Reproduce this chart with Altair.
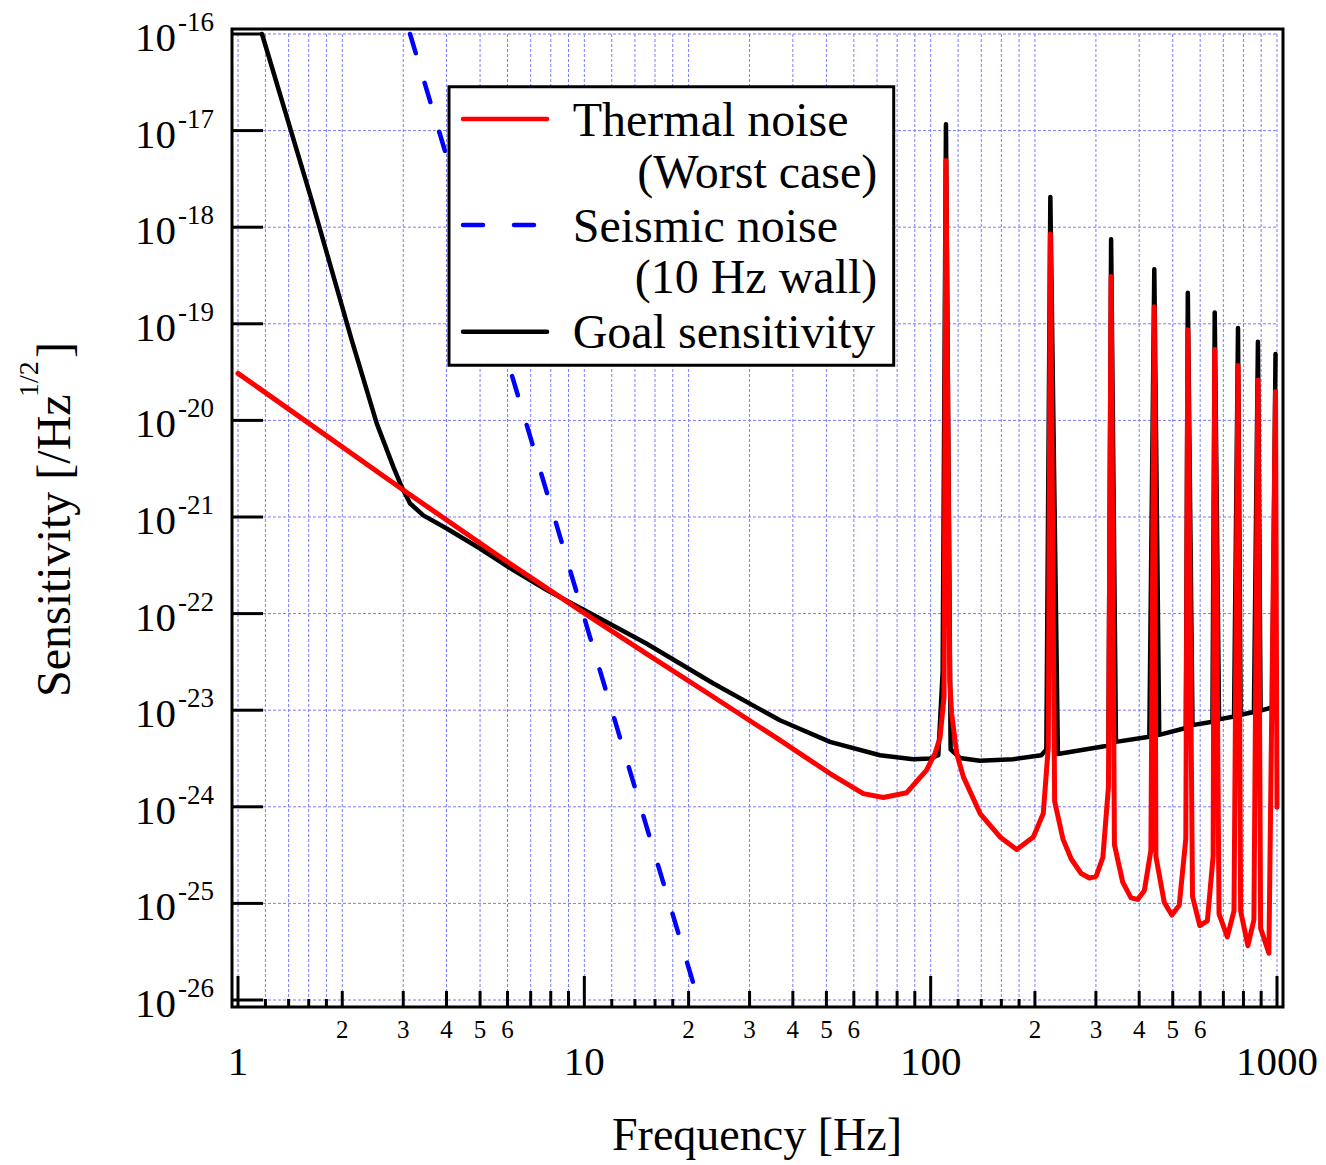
import altair as alt
import pandas as pd

# ---------------- data ----------------
thermal_freq = [1.0, 1.58, 3.0, 5.58, 9.72, 15.1, 23.6, 36.7, 51.2, 63.9, 73.0, 85.3, 97.3,
                102.9, 106.4, 109.3, 110.7, 113.5, 115.0, 118.9, 124.3, 138.9, 158.6, 177.2,
                197.9, 211.4, 218.6, 221.6, 228.0, 240.9, 254.6, 272.0, 287.4, 300.5, 314.2,
                326.1, 331.9, 339.3, 358.5, 378.9, 396.0, 413.9, 432.4, 442.3, 447.0, 472.4,
                497.1, 522.0, 545.4, 552.7, 570.2, 598.5, 629.5, 654.0, 661.0, 680.2, 718.7,
                751.4, 771.6, 785.2, 824.1, 857.7, 880.9, 896.8, 947.5, 990.2, 1000.0]
thermal_val = [3.07e-20, 9.66e-21, 1.90e-21, 4.09e-22, 1.08e-22, 3.86e-23, 1.37e-23, 4.89e-24,
               2.21e-24, 1.37e-24, 1.25e-24, 1.40e-24, 2.40e-24, 3.56e-24, 5.20e-24, 1.37e-23,
               4.89e-18, 2.0e-23, 9.2e-24, 3.56e-24, 2.04e-24, 8.51e-25, 4.88e-25, 3.61e-25,
               4.88e-25, 8.51e-25, 4.17e-24, 8.51e-19, 1.14e-24, 4.66e-25, 2.88e-25, 2.04e-25,
               1.83e-25, 1.91e-25, 3.0e-25, 1.61e-24, 3.08e-19, 4.06e-25, 1.66e-25, 1.14e-25,
               1.10e-25, 1.35e-25, 3.54e-25, 1.50e-19, 3.08e-25, 1.03e-25, 7.57e-26, 9.57e-26,
               4.66e-25, 8.67e-20, 1.18e-25, 5.90e-26, 6.61e-26, 3.08e-25, 5.43e-20, 7.80e-26,
               4.49e-26, 8.36e-26, 3.70e-20, 8.36e-26, 3.65e-26, 6.78e-26, 2.62e-20, 5.52e-26,
               3.05e-26, 1.99e-20, 9.9e-25]

goal_freq = [1.173, 1.632, 2.13, 2.515, 2.809, 2.969, 3.139, 3.428, 4.005, 4.998, 6.237, 7.788,
             9.93, 15.1, 23.6, 36.7, 51.2, 71.4, 89.1, 99.5, 105.2, 108.3, 110.7, 114.2, 121.5,
             138.7, 173.0, 208.7, 215.8, 221.6, 233.0, 314.2, 326.0, 331.9, 342.8, 427.9, 442.3,
             457.0, 545.4, 552.7, 570.2, 651.0, 661.0, 680.2, 751.6, 771.6, 785.3, 857.8, 880.9,
             896.8, 968.8, 990.2]
goal_val = [1.0e-16, 1.91e-18, 6.78e-20, 9.31e-21, 3.30e-21, 2.05e-21, 1.38e-21, 1.04e-21,
            7.60e-22, 4.72e-22, 2.82e-22, 1.75e-22, 1.10e-22, 4.90e-23, 1.89e-23, 7.87e-24,
            4.70e-24, 3.42e-24, 3.11e-24, 3.16e-24, 3.42e-24, 2.5e-23, 1.16e-17, 3.93e-24,
            3.20e-24, 2.99e-24, 3.11e-24, 3.42e-24, 3.93e-24, 2.06e-18, 3.52e-24, 4.21e-24,
            4.3e-24, 7.52e-19, 4.70e-24, 5.32e-24, 3.67e-19, 5.55e-24, 6.55e-24, 2.09e-19,
            7.01e-24, 7.60e-24, 1.31e-19, 8.04e-24, 8.61e-24, 9.06e-20, 8.97e-24, 9.59e-24,
            6.50e-20, 9.89e-24, 1.07e-23, 4.86e-20]

seismic_freq = [3.139, 20.6]
seismic_val = [1.0e-16, 1.52e-26]

major_ticks = [1, 10, 100, 1000]
major_labels = ["1", "10", "100", "1000"]
mid_ticks = [2, 3, 4, 5, 6, 7, 8, 9, 20, 30, 40, 50, 60, 70, 80, 90,
             200, 300, 400, 500, 600, 700, 800, 900]
small_ticks = [1.2, 1.4, 1.6, 1.8, 12, 14, 16, 18, 120, 140, 160, 180]
minor_label_vals = [2, 3, 4, 5, 6, 20, 30, 40, 50, 60, 200, 300, 400, 500, 600]
minor_labels = ["2", "3", "4", "5", "6"] * 3
y_decades = [1e-16, 1e-17, 1e-18, 1e-19, 1e-20, 1e-21, 1e-22, 1e-23, 1e-24, 1e-25, 1e-26]
y_exponents = ["-16", "-17", "-18", "-19", "-20", "-21", "-22", "-23", "-24", "-25", "-26"]

legend_left = ["Thermal noise", "Seismic noise", "Goal sensitivity"]
legend_right = ["(Worst case)", "(10 Hz wall)"]

# ---------------- layout ----------------
W, H = 1051, 978
FONT = "Liberation Serif"
GRID = "#7b7bff"

xs = alt.Scale(type="log", domain=[0.96089, 1040.70], nice=False)
ys = alt.Scale(type="log", domain=[8.463e-27, 1.1265e-16], nice=False)

df_th = pd.DataFrame({"f": thermal_freq, "v": thermal_val})
df_goal = pd.DataFrame({"f": goal_freq, "v": goal_val})
df_seis = pd.DataFrame({"f": seismic_freq, "v": seismic_val})
grid_x = sorted(major_ticks + mid_ticks + small_ticks)
df_gx = pd.DataFrame({"f": grid_x})
df_gy = pd.DataFrame({"v": y_decades})
df_major = pd.DataFrame({"f": major_ticks, "t": major_labels})
df_mid = pd.DataFrame({"f": mid_ticks})
df_small = pd.DataFrame({"f": small_ticks})
df_minlab = pd.DataFrame({"f": minor_label_vals, "t": minor_labels})
df_ylab = pd.DataFrame({"v": y_decades, "e": y_exponents, "b": ["10"] * len(y_decades)})
one = pd.DataFrame({"a": [0]})

X = lambda: alt.X("f:Q", scale=xs, axis=None)
Y = lambda: alt.Y("v:Q", scale=ys, axis=None)

grid_v = alt.Chart(df_gx).mark_rule(stroke=GRID, strokeWidth=1, strokeDash=[3, 2]).encode(
    x=X(), y=alt.Y(datum=1e-16, scale=ys, axis=None), y2=alt.datum(1e-26))
grid_h = alt.Chart(df_gy).mark_rule(stroke=GRID, strokeWidth=1, strokeDash=[3, 2]).encode(
    y=Y(), x=alt.X(datum=1, scale=xs, axis=None), x2=alt.datum(1000))

tick_left = alt.Chart(df_gy).mark_rule(stroke="black", strokeWidth=3).encode(
    y=Y(), x=alt.value(0), x2=alt.value(31))
tick_major = alt.Chart(df_major).mark_rule(stroke="black", strokeWidth=3).encode(
    x=X(), y=alt.value(H), y2=alt.value(H - 31))
tick_mid = alt.Chart(df_mid).mark_rule(stroke="black", strokeWidth=3).encode(
    x=X(), y=alt.value(H), y2=alt.value(H - 16))
tick_small = alt.Chart(df_small).mark_rule(stroke="black", strokeWidth=3).encode(
    x=X(), y=alt.value(H), y2=alt.value(H - 8))

goal = alt.Chart(df_goal).mark_line(color="black", strokeWidth=4.5, strokeJoin="round",
                                    strokeCap="round").encode(x=X(), y=Y())
thermal = alt.Chart(df_th).mark_line(color="#ff0000", strokeWidth=5, strokeJoin="round",
                                     strokeCap="round").encode(x=X(), y=Y())
seismic = alt.Chart(df_seis).mark_line(color="#0000ff", strokeWidth=4.5, strokeDash=[20, 31],
                                       strokeCap="round").encode(x=X(), y=Y())

xlab_major = alt.Chart(df_major).mark_text(font=FONT, fontSize=41, align="center",
                                           baseline="alphabetic").encode(
    x=X(), y=alt.value(1046), text="t:N")
xlab_minor = alt.Chart(df_minlab).mark_text(font=FONT, fontSize=25, align="center",
                                            baseline="alphabetic").encode(
    x=X(), y=alt.value(1009), text="t:N")
ylab_base = alt.Chart(df_ylab).mark_text(font=FONT, fontSize=41, align="right",
                                         baseline="alphabetic", dy=17).encode(
    y=Y(), x=alt.value(-56), text="b:N")
ylab_exp = alt.Chart(df_ylab).mark_text(font=FONT, fontSize=27, align="left",
                                        baseline="alphabetic", dy=-3).encode(
    y=Y(), x=alt.value(-54), text="e:N")

xtitle = alt.Chart(one).mark_text(font=FONT, fontSize=46, align="center", baseline="alphabetic",
                                  text="Frequency [Hz]").encode(x=alt.value(525), y=alt.value(1121))
ytitle1 = alt.Chart(one).mark_text(font=FONT, fontSize=48, align="left", baseline="alphabetic",
                                   angle=270, text="Sensitivity [/Hz").encode(
    x=alt.value(70 - 232), y=alt.value(697 - 29))
ytitle2 = alt.Chart(one).mark_text(font=FONT, fontSize=28, align="left", baseline="alphabetic",
                                   angle=270, text="1/2").encode(
    x=alt.value(38 - 232), y=alt.value(397 - 29))
ytitle3 = alt.Chart(one).mark_text(font=FONT, fontSize=48, align="left", baseline="alphabetic",
                                   angle=270, text="]").encode(
    x=alt.value(70 - 232), y=alt.value(358 - 29))

# legend
leg_box = alt.Chart(one).mark_rect(fill="white", stroke="black", strokeWidth=3).encode(
    x=alt.value(217), x2=alt.value(661.7), y=alt.value(57.7), y2=alt.value(336.3))
leg_red = alt.Chart(one).mark_rule(stroke="#ff0000", strokeWidth=4.5, strokeCap="round").encode(
    x=alt.value(231), x2=alt.value(315), y=alt.value(90))
leg_blue = alt.Chart(one).mark_rule(stroke="#0000ff", strokeWidth=4.5, strokeCap="round",
                                    strokeDash=[20, 31]).encode(
    x=alt.value(231), x2=alt.value(303), y=alt.value(196))
leg_black = alt.Chart(one).mark_rule(stroke="black", strokeWidth=4.5, strokeCap="round").encode(
    x=alt.value(231), x2=alt.value(315), y=alt.value(302.7))
leg_l = alt.Chart(pd.DataFrame({"t": legend_left, "y": [107, 212.7, 319.3]})).mark_text(
    font=FONT, fontSize=48, align="left", baseline="alphabetic").encode(
    x=alt.value(340.7), y=alt.Y("y:Q", scale=None), text="t:N")
leg_r = alt.Chart(pd.DataFrame({"t": legend_right, "y": [159.3, 264]})).mark_text(
    font=FONT, fontSize=48, align="right", baseline="alphabetic").encode(
    x=alt.value(645.3), y=alt.Y("y:Q", scale=None), text="t:N")

chart = alt.layer(
    grid_v, grid_h, tick_left, tick_major, tick_mid, tick_small,
    goal, thermal, seismic,
    xlab_major, xlab_minor, ylab_base, ylab_exp, xtitle, ytitle1, ytitle2, ytitle3,
    leg_box, leg_red, leg_blue, leg_black, leg_l, leg_r,
).resolve_scale(y="shared").properties(
    width=W, height=H,
    autosize=alt.AutoSizeParams(type="none"),
    padding={"left": 232, "top": 29, "right": 43, "bottom": 158},
    background="white",
).configure_view(stroke="black", strokeWidth=3)

chart.save("out.html", embed_options={"renderer": "svg", "actions": False})
